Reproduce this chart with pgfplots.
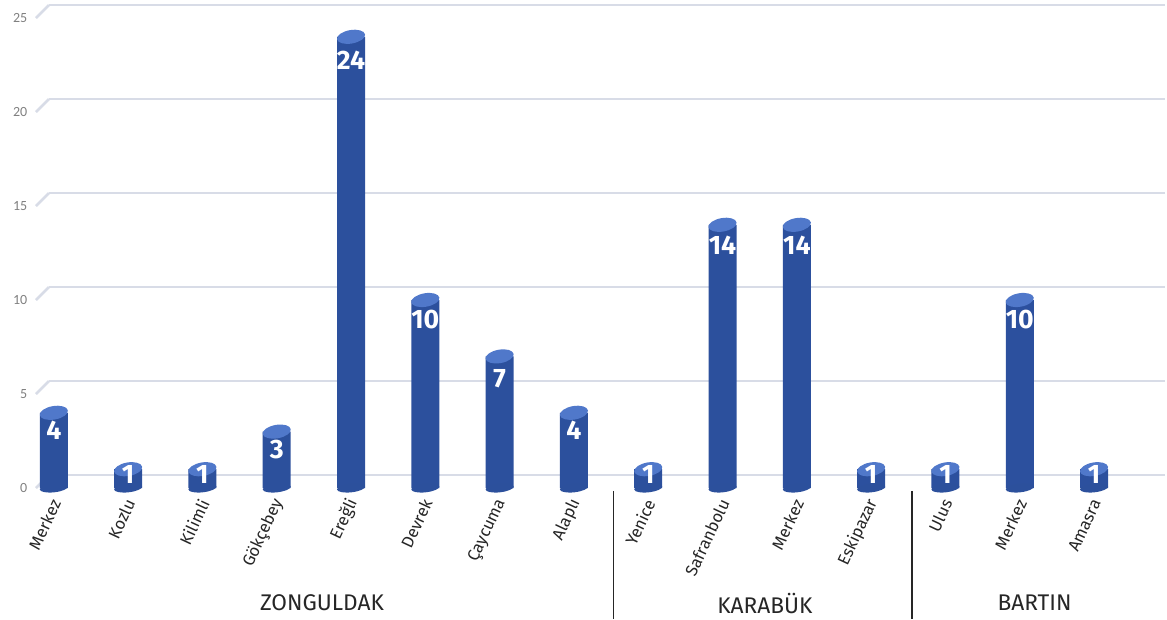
\documentclass[border=0pt]{standalone}
\usepackage{pgfplots}
\pgfplotsset{compat=1.18}
\usepackage{pgfplotstable}
\usepackage{fontspec}
\setmainfont{Fira Sans}
\newfontfamily\carlito{Carlito}

\definecolor{barL}{RGB}{44,80,156}
\definecolor{barM}{RGB}{76,118,200}
\definecolor{barR}{RGB}{44,80,158}
\definecolor{bartop}{RGB}{80,120,202}
\definecolor{gridc}{RGB}{216,220,231}
\definecolor{tickc}{RGB}{128,128,128}
\definecolor{labc}{RGB}{38,38,38}

% x, value, y of the value label
\pgfplotstableread{
x y ly
0 4 3.05
1 1 0.72
2 1 0.72
3 3 2.05
4 24 22.75
5 10 8.95
6 7 5.8
7 4 3.05
8 1 0.72
9 14 12.9
10 14 12.9
11 1 0.72
12 1 0.72
13 10 8.95
14 1 0.72
}\data

\pgfdeclareplotmark{cyltop}{%
  \pgfpathellipse{\pgfpointorigin}{\pgfpoint{10.5pt}{1.8pt}}{\pgfpoint{-0.8pt}{5pt}}%
  \pgfusepath{fill}}
\pgfdeclareplotmark{cylbot}{%
  \pgfpathellipse{\pgfpointorigin}{\pgfpoint{10.5pt}{1.2pt}}{\pgfpoint{-0.5pt}{3.2pt}}%
  \pgfusepath{fill}}

\begin{document}
\begin{tikzpicture}
\useasboundingbox (0,0) rectangle (875.25pt,464.25pt);
\begin{axis}[
  at={(27pt,98.25pt)}, anchor=south west,
  scale only axis,
  width=837pt, height=352.5pt,
  xmin=-0.24, xmax=14.78,
  ymin=0, ymax=25,
  clip=false,
  axis line style={draw=none},
  major tick length=0pt,
  ytick={0,5,...,25},
  ymajorgrids,
  major grid style={draw=gridc, line width=2pt, xshift=9.75pt, yshift=9.75pt},
  /pgf/number format/assume math mode=true,
  yticklabel style={font=\carlito\fontsize{10.5}{12}\selectfont, text=tickc, xshift=-3pt},
  xtick={0,...,14},
  xticklabels={Merkez,Kozlu,Kilimli,Gökçebey,Ereğli,Devrek,Çaycuma,Alaplı,Yenice,Safranbolu,Merkez,Eskipazar,Ulus,Merkez,Amasra},
  xticklabel style={xshift=3pt, yshift=-6pt, rotate=65, anchor=east,
    font=\fontsize{12.5}{14}\selectfont, text=labc},
]
\pgfplotsinvokeforeach{0,5,10,15,20,25}{
  \draw[gridc, line width=2pt] (axis cs:-0.24,#1) -- ++(9.75pt,9.75pt);
}
% rounded bottoms
\addplot[only marks, mark=cylbot, mark options={fill=barL}] table[x=x, y expr=0] {\data};
% bars
\addplot[ybar, bar width=21pt, bar shift=0pt, draw=none,
  left color=barL, middle color=barM, right color=barR] table[x=x, y=y] {\data};
% tops
\addplot[only marks, mark=cyltop, mark options={fill=bartop}] table[x=x, y=y] {\data};
% value labels
\addplot[draw=none, mark=none, nodes near coords, point meta=explicit symbolic,
  nodes near coords style={anchor=center, inner sep=0pt, text=white,
    font=\bfseries\fontsize{20}{22}\selectfont}]
  table[x=x, y=ly, meta=y] {\data};
% group separators and names
\draw[labc, line width=1pt] (axis cs:7.53,-0.15) -- (axis cs:7.53,-6.97);
\draw[labc, line width=1pt] (axis cs:11.55,-0.15) -- (axis cs:11.55,-6.97);
\node[font=\fontsize{17}{19}\selectfont, text=labc] at (axis cs:3.61,-6.12) {ZONGULDAK};
\node[font=\fontsize{17}{19}\selectfont, text=labc] at (axis cs:9.57,-6.12) {KARABÜK};
\node[font=\fontsize{17}{19}\selectfont, text=labc] at (axis cs:13.2,-6.12) {BARTIN};
\end{axis}
\end{tikzpicture}
\end{document}
